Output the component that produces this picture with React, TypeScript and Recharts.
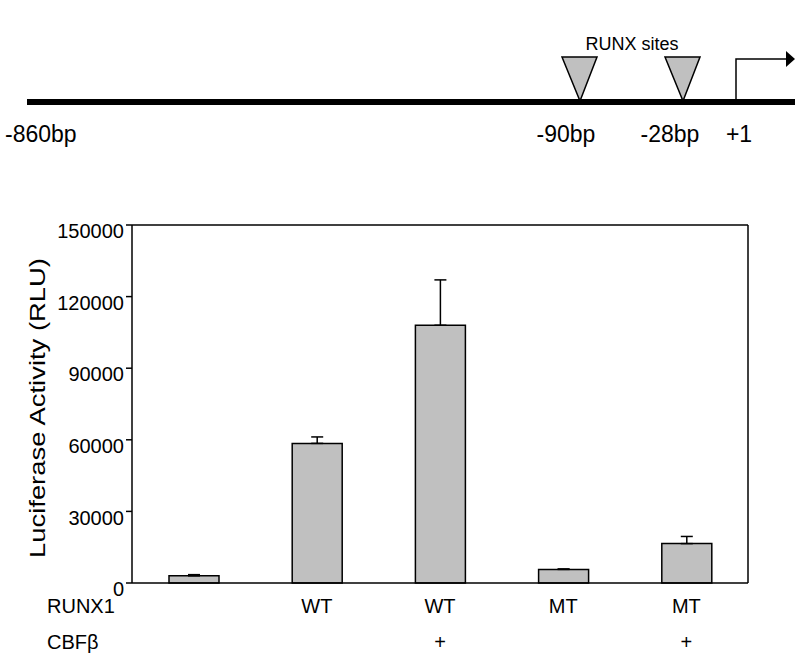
import { BarChart, Bar, XAxis, YAxis, ErrorBar, Label } from "recharts";

// promoter constructs (x categories)
const groups = ["empty", "wt", "wtCbf", "mt", "mtCbf"];
const runx1Row = ["", "WT", "WT", "MT", "MT"];
const cbfbRow = ["", "", "+", "", "+"];

// luciferase activity (RLU) and upper error
const activity = [3000, 58500, 108000, 5700, 16500];
const activityErr = [500, 2700, 19000, 200, 3000];

const yTicks = [0, 30000, 60000, 90000, 120000, 150000];
const edgeTicks = [0, 1, 2, 3, 4, 5];

const data = groups.map((g, i) => ({
  group: g,
  value: activity[i],
  err: [0, activityErr[i]],
}));

const FONT = '"Liberation Sans", Arial, sans-serif';

const GroupTick = (props: any) => {
  const { x, payload } = props;
  const i = payload.index;
  // rows sit under the plot bottom (583)
  const y = 583;
  return (
    <g fontFamily={FONT} fontSize={20} fill="#000">
      {i === 0 && (
        <>
          <text x={47} y={y + 30} fill="#000">RUNX1</text>
          <text x={47} y={y + 66} fill="#000">CBFβ</text>
        </>
      )}
      <text x={x} y={y + 30} textAnchor="middle" fill="#000">{runx1Row[i]}</text>
      <text x={x} y={y + 66} textAnchor="middle" fill="#000">{cbfbRow[i]}</text>
    </g>
  );
};

const YTitle = (props: any) => {
  const { viewBox } = props;
  const cx = viewBox.x + 45;
  const cy = viewBox.y + viewBox.height / 2 + 4;
  return (
    <text
      x={cx - 150}
      y={cy}
      transform={`rotate(-90 ${cx} ${cy})`}
      fontFamily={FONT}
      fontSize={22}
      fill="#000"
      textLength={300}
      lengthAdjust="spacingAndGlyphs"
    >
      Luciferase Activity (RLU)
    </text>
  );
};

const Promoter = () => (
  <svg width={795} height={160} style={{ position: "absolute", left: 0, top: 0 }}>
    <g fontFamily={FONT} fill="#000">
      <text x={632} y={50} fontSize={18} textAnchor="middle">RUNX sites</text>
      <line x1={27} y1={102} x2={795} y2={102} stroke="#000" strokeWidth={6} />
      <polygon points="562,57 597,57 580,101" fill="#c0c0c0" stroke="#000" strokeWidth={1.5} />
      <polygon points="665,57 700,57 683,101" fill="#c0c0c0" stroke="#000" strokeWidth={1.5} />
      <polyline points="736,101 736,59 788,59" fill="none" stroke="#000" strokeWidth={1.5} />
      <polygon points="786,51 795,59 786,67" fill="#000" />
      <text x={5} y={142} fontSize={23}>-860bp</text>
      <text x={566} y={142} fontSize={23} textAnchor="middle">-90bp</text>
      <text x={670} y={142} fontSize={23} textAnchor="middle">-28bp</text>
      <text x={739} y={142} fontSize={23} textAnchor="middle">+1</text>
    </g>
  </svg>
);

export default function App() {
  return (
    <div style={{ position: "relative", width: 795, height: 657, background: "#fff" }}>
      <style>{`body{margin:0;background:#fff}`}</style>
      <BarChart
        width={795}
        height={657}
        data={data}
        margin={{ top: 224, right: 46, bottom: 72, left: 0 }}
      >
        <XAxis
          xAxisId="base"
          type="number"
          domain={[0, 5]}
          allowDataOverflow
          ticks={edgeTicks}
          tick={false}
          tickSize={6}
          height={1}
          axisLine={{ stroke: "#000", strokeWidth: 1.5 }}
          tickLine={{ stroke: "#000", strokeWidth: 1.5 }}
        />
        <XAxis
          xAxisId="labels"
          dataKey="group"
          height={1}
          axisLine={false}
          tickLine={false}
          tickSize={0}
          tickMargin={0}
          interval={0}
          tick={<GroupTick />}
        />
        <XAxis
          xAxisId="top"
          orientation="top"
          type="number"
          domain={[0, 5]}
          allowDataOverflow
          height={1}
          tick={false}
          tickLine={false}
          axisLine={{ stroke: "#000", strokeWidth: 1.5 }}
        />
        <YAxis
          yAxisId="left"
          width={132}
          domain={[0, 150000]}
          ticks={yTicks}
          tickSize={6}
          tickMargin={2}
          tick={{ fill: "#000", fontSize: 20, fontFamily: FONT, dy: 6 }}
          axisLine={{ stroke: "#000", strokeWidth: 1.5 }}
          tickLine={{ stroke: "#000", strokeWidth: 1.5 }}
        >
          <Label content={<YTitle />} />
        </YAxis>
        <YAxis
          yAxisId="right"
          orientation="right"
          width={1}
          domain={[0, 150000]}
          allowDataOverflow
          tick={false}
          tickLine={false}
          axisLine={{ stroke: "#000", strokeWidth: 1.5 }}
        />
        <Bar
          xAxisId="labels"
          yAxisId="left"
          dataKey="value"
          barSize={50}
          fill="#c0c0c0"
          stroke="#000"
          strokeWidth={1.5}
          isAnimationActive={false}
        >
          <ErrorBar dataKey="err" width={6} stroke="#000" strokeWidth={1.5} direction="y" />
        </Bar>
      </BarChart>
      <Promoter />
    </div>
  );
}
